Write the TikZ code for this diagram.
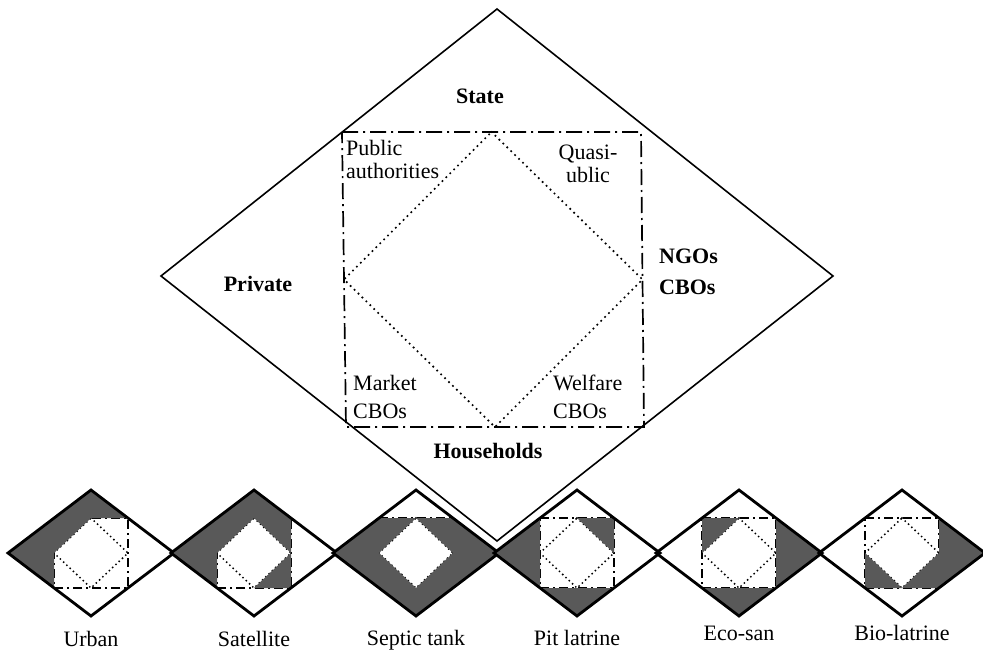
\documentclass[tikz,border=0pt]{standalone}
\usepackage{fontspec}
\setmainfont{Liberation Serif}
\usetikzlibrary{calc}
\definecolor{techgray}{HTML}{595959}

\begin{document}
\begin{tikzpicture}[x=1pt, y=-1pt,
    txt/.style={inner sep=0pt, align=left, font=\fontsize{22}{23}\selectfont},
    head/.style={txt, font=\fontsize{22}{23}\selectfont\bfseries},
    dashdot/.style={line width=1.7pt, dash pattern=on 16pt off 5pt on 2pt off 5pt},
    dotline/.style={line width=2.4pt, line cap=round, dash pattern=on 0pt off 5.5pt},
    smalldashdot/.style={line width=1.7pt, dash pattern=on 9pt off 4pt on 2pt off 4pt},
    smalldot/.style={line width=2.1pt, line cap=round, dash pattern=on 0pt off 4.5pt}]
  \useasboundingbox (0,0) rectangle (983,651);

  % 大菱形：State / Private / NGOs / Households
  \coordinate (S) at (497,9);
  \coordinate (P) at (161,276);
  \coordinate (N) at (833,276);
  \coordinate (H) at (497,541);
  % 点划线矩形
  \coordinate (r1) at (342,132);
  \coordinate (r2) at (641,132);
  \coordinate (r3) at (644,427);
  \coordinate (r4) at (346,427);

  \draw[line width=1.6pt] (S) -- (N) -- (H) -- (P) -- cycle;
  \draw[dashdot] (r1) -- (r2) -- (r3) -- (r4) -- cycle;
  % 内部点线菱形
  \draw[dotline] ($(r1)!0.5!(r2)$) -- ($(r2)!0.5!(r3)$)
     -- ($(r3)!0.5!(r4)$) -- ($(r4)!0.5!(r1)$) -- cycle;

  \node[head] (state) at (480,96) {State};
  \node[head] (private) at (258,284) {Private};
  \node[head, anchor=north west] (ngo) at (659,249) {NGOs\\[8pt]CBOs};
  \node[head] (house) at (488,451) {Households};
  \node[txt, anchor=north west] (pub) at (346,140) {Public\\authorities};
  \node[txt, anchor=north, align=center] (quasi) at (588,145) {Quasi-\\ublic};
  \node[txt, anchor=north west] (market) at (353,375) {Market\\[5pt]CBOs};
  \node[txt, anchor=north west] (welfare) at (553,375) {Welfare\\[5pt]CBOs};

  % 六种技术的小菱形，灰色 = 涉及的部分
  \foreach \cx/\ly/\tech/\regs [count=\i] in {
      91/646/Urban/{T/a/b,L/a/d,a/mt/ml},
      254/646/Satellite/{T/a/b,L/a/d,a/mt/ml,b/mt/mr,c/mb/mr},
      416/645/Septic tank/{L/a/d,R/b/c,B/d/c,a/mt/ml,b/mt/mr,c/mb/mr,d/mb/ml},
      577/645/Pit latrine/{L/a/d,B/d/c,b/mt/mr},
      739/640/Eco-san/{R/b/c,B/d/c,a/mt/ml},
      902/640/Bio-latrine/{R/b/c,c/mb/mr,d/mb/ml}} {
    \coordinate (T) at (\cx,490);
    \coordinate (L) at ({\cx-83},553);
    \coordinate (R) at ({\cx+83},553);
    \coordinate (B) at (\cx,616);
    \coordinate (a) at ({\cx-37},518);
    \coordinate (b) at ({\cx+37},518);
    \coordinate (c) at ({\cx+37},588);
    \coordinate (d) at ({\cx-37},588);
    \coordinate (mt) at (\cx,518);
    \coordinate (mb) at (\cx,588);
    \coordinate (ml) at ({\cx-37},553);
    \coordinate (mr) at ({\cx+37},553);

    \draw[smalldashdot] (a) -- (b) -- (c) -- (d) -- cycle;
    \draw[smalldot] (mt) -- (mr) -- (mb) -- (ml) -- cycle;
    \foreach \p/\q/\r in \regs
      \fill[techgray] (\p) -- (\q) -- (\r) -- cycle;
    \draw[line width=2.8pt] (T) -- (R) -- (B) -- (L) -- cycle;

    \node[txt, anchor=base] (tech\i) at (\cx,\ly) {\tech};
  }
\end{tikzpicture}
\end{document}
